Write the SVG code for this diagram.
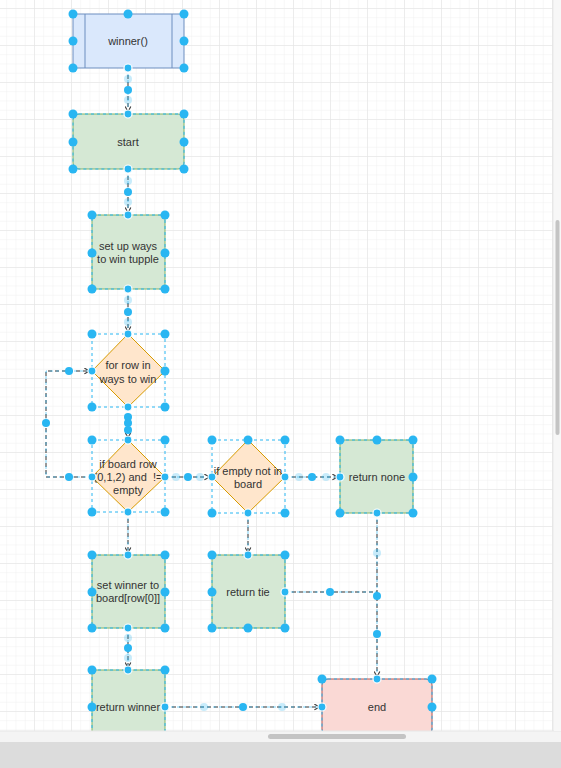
<svg xmlns="http://www.w3.org/2000/svg" width="561" height="768" viewBox="0 0 561 768">
<defs>
<pattern id="minor" x="34" y="8" width="9.25" height="9.25" patternUnits="userSpaceOnUse"><path d="M0 0V9.25M0 0H9.25" fill="none" stroke="#f0f0f0" stroke-width="1"/></pattern>
<pattern id="major" x="34" y="8" width="37" height="37" patternUnits="userSpaceOnUse"><path d="M0 0V37M0 0H37" fill="none" stroke="#e2e2e2" stroke-width="1"/></pattern>
<marker id="arr" viewBox="0 0 10 10" refX="9" refY="5" markerWidth="7" markerHeight="7" orient="auto"><path d="M1 1L9 5L1 9" fill="none" stroke="#333" stroke-width="1.5"/></marker>
</defs>
<style>
text{font-family:"Liberation Sans",Arial,sans-serif;font-size:11px;fill:#333;text-anchor:middle;white-space:pre}
.g{fill:#d5e8d4;stroke:#82b366}
.o{fill:#ffe6cc;stroke:#d79b00}
.sel{fill:none;stroke:#29b6f2;stroke-dasharray:3 3}
.e{fill:none;stroke:#333;stroke-dasharray:4 3}
.eo{fill:none;stroke:#29b6f2;stroke-dasharray:3 3;opacity:.6}
.h{fill:#29b6f2}
.hl{fill:#29b6f2;opacity:.25}
.c{fill:#29b6f2;stroke:#fff;stroke-width:1.2}
</style>
<rect width="561" height="768" fill="#fff"/>
<rect width="553" height="731" fill="url(#minor)"/>
<rect width="553" height="731" fill="url(#major)"/>
<line x1="553" y1="0" x2="553" y2="731" stroke="#e2e2e2"/>

<g id="connectors">
<path class="e" d="M128 68V112" marker-end="url(#arr)"/>
<path class="e" d="M128 169V213" marker-end="url(#arr)"/>
<path class="e" d="M128 289V332" marker-end="url(#arr)"/>
<path class="e" d="M128 407V438" marker-end="url(#arr)"/>
<path class="e" d="M92 477H46V371H90" marker-end="url(#arr)"/>
<path class="e" d="M165 477H210" marker-end="url(#arr)"/>
<path class="e" d="M285 477H338" marker-end="url(#arr)"/>
<path class="e" d="M128 512V553" marker-end="url(#arr)"/>
<path class="e" d="M248 513V553" marker-end="url(#arr)"/>
<path class="e" d="M128 628V668" marker-end="url(#arr)"/>
<path class="e" d="M377 513V677" marker-end="url(#arr)"/>
<path class="e" d="M285 592H377"/>
<path class="e" d="M165 707H320" marker-end="url(#arr)"/>
<path class="eo" d="M128 68V114M128 169V215M128 289V334M128 407V440M92 477H46V371H92M165 477H212M285 477H340M128 512V555M248 513V555M128 628V670M377 513V679M285 592H377M165 707H322"/>
</g>

<g id="n-winner">
<rect x="73" y="14" width="111" height="54" fill="#dae8fc" stroke="#6c8ebf"/>
<path d="M85 14V68M172 14V68" stroke="#6c8ebf"/>
<text x="128" y="45">winner()</text>
</g>
<g id="n-start">
<rect class="g" x="73" y="114" width="111" height="55" rx="6"/>
<rect class="sel" x="73" y="114" width="111" height="55" rx="6"/>
<text x="128" y="146">start</text>
</g>
<g id="n-setup">
<rect class="g" x="92" y="215" width="73" height="74"/>
<rect class="sel" x="92" y="215" width="73" height="74"/>
<text x="128" y="250">set up ways</text>
<text x="128" y="263">to win tupple</text>
</g>
<g id="n-forrow">
<path class="o" d="M128 334L165 371L128 407L92 371Z"/>
<rect class="sel" x="92" y="334" width="73" height="73"/>
<text x="128" y="369">for row in</text>
<text x="128" y="383">ways to win</text>
</g>
<g id="n-ifboard">
<path class="o" d="M128 440L165 477L128 512L92 477Z"/>
<rect class="sel" x="92" y="440" width="73" height="72"/>
<text x="128" y="468">if board row</text>
<text x="128" y="481" xml:space="preserve">(0,1,2) and  !=</text>
<text x="128" y="494">empty</text>
</g>
<g id="n-ifempty">
<path class="o" d="M248 440L285 477L248 513L212 477Z"/>
<rect class="sel" x="212" y="440" width="73" height="73"/>
<text x="248" y="475">if empty not in</text>
<text x="248" y="488">board</text>
</g>
<g id="n-returnnone">
<rect class="g" x="340" y="440" width="73" height="73"/>
<rect class="sel" x="340" y="440" width="73" height="73"/>
<text x="377" y="481">return none</text>
</g>
<g id="n-setwinner">
<rect class="g" x="92" y="555" width="73" height="73"/>
<rect class="sel" x="92" y="555" width="73" height="73"/>
<text x="128" y="589">set winner to</text>
<text x="128" y="602">board[row[0]]</text>
</g>
<g id="n-returntie">
<rect class="g" x="212" y="555" width="73" height="73"/>
<rect class="sel" x="212" y="555" width="73" height="73"/>
<text x="248" y="596">return tie</text>
</g>
<g id="n-returnwinner">
<rect class="g" x="92" y="670" width="73" height="73"/>
<rect class="sel" x="92" y="670" width="73" height="73"/>
<text x="128" y="711">return winner</text>
</g>
<g id="n-end">
<rect x="322" y="679" width="110" height="56" rx="6" fill="#fad9d5" stroke="#b85450"/>
<rect class="sel" x="322" y="679" width="110" height="56" rx="6"/>
<text x="377" y="711">end</text>
</g>

<g id="handles">
<g class="h">
<circle cx="73" cy="14" r="4.5"/><circle cx="128" cy="14" r="4.5"/><circle cx="184" cy="14" r="4.5"/><circle cx="73" cy="41" r="4.5"/><circle cx="184" cy="41" r="4.5"/><circle cx="73" cy="68" r="4.5"/><circle cx="184" cy="68" r="4.5"/>
<circle cx="128" cy="90" r="4"/>
<circle cx="73" cy="114" r="4.5"/><circle cx="184" cy="114" r="4.5"/><circle cx="73" cy="142" r="4.5"/><circle cx="184" cy="142" r="4.5"/><circle cx="73" cy="169" r="4.5"/><circle cx="184" cy="169" r="4.5"/>
<circle cx="128" cy="192" r="4"/>
<circle cx="92" cy="215" r="4.5"/><circle cx="165" cy="215" r="4.5"/><circle cx="92" cy="253" r="4.5"/><circle cx="165" cy="253" r="4.5"/><circle cx="92" cy="289" r="4.5"/><circle cx="165" cy="289" r="4.5"/>
<circle cx="128" cy="312" r="4"/>
<circle cx="92" cy="334" r="4.5"/><circle cx="165" cy="334" r="4.5"/><circle cx="165" cy="371" r="4.5"/><circle cx="92" cy="407" r="4.5"/><circle cx="165" cy="407" r="4.5"/>
<circle cx="128" cy="417" r="4"/><circle cx="128" cy="423" r="4"/><circle cx="128" cy="430" r="4"/>
<circle cx="69" cy="371" r="4"/><circle cx="46" cy="423" r="4"/><circle cx="69" cy="477" r="4"/>
<circle cx="92" cy="440" r="4.5"/><circle cx="165" cy="440" r="4.5"/><circle cx="92" cy="512" r="4.5"/><circle cx="165" cy="512" r="4.5"/>
<circle cx="188" cy="477" r="4"/>
<circle cx="212" cy="440" r="4.5"/><circle cx="248" cy="440" r="4.5"/><circle cx="285" cy="440" r="4.5"/><circle cx="212" cy="513" r="4.5"/><circle cx="285" cy="513" r="4.5"/>
<circle cx="312" cy="477" r="4"/>
<circle cx="340" cy="440" r="4.5"/><circle cx="377" cy="440" r="4.5"/><circle cx="413" cy="440" r="4.5"/><circle cx="413" cy="477" r="4.5"/><circle cx="340" cy="513" r="4.5"/><circle cx="413" cy="513" r="4.5"/>
<circle cx="92" cy="555" r="4.5"/><circle cx="165" cy="555" r="4.5"/><circle cx="92" cy="592" r="4.5"/><circle cx="165" cy="592" r="4.5"/><circle cx="92" cy="628" r="4.5"/><circle cx="165" cy="628" r="4.5"/>
<circle cx="212" cy="555" r="4.5"/><circle cx="285" cy="555" r="4.5"/><circle cx="212" cy="592" r="4.5"/><circle cx="212" cy="628" r="4.5"/><circle cx="248" cy="628" r="4.5"/><circle cx="285" cy="628" r="4.5"/>
<circle cx="330" cy="592" r="4"/><circle cx="377" cy="596" r="4"/><circle cx="377" cy="634" r="4"/>
<circle cx="128" cy="648" r="4"/>
<circle cx="92" cy="670" r="4.5"/><circle cx="165" cy="670" r="4.5"/><circle cx="92" cy="707" r="4.5"/>
<circle cx="243" cy="707" r="4"/>
<circle cx="322" cy="679" r="4.5"/><circle cx="432" cy="679" r="4.5"/><circle cx="432" cy="707" r="4.5"/>
</g>
<g class="hl">
<circle cx="128" cy="79" r="4"/><circle cx="128" cy="100" r="4"/><circle cx="128" cy="181" r="4"/><circle cx="128" cy="202" r="4"/><circle cx="128" cy="300" r="4"/><circle cx="128" cy="322" r="4"/>
<circle cx="176" cy="477" r="4"/><circle cx="200" cy="477" r="4"/><circle cx="299" cy="477" r="4"/><circle cx="326" cy="477" r="4"/>
<circle cx="377" cy="553" r="4"/><circle cx="128" cy="638" r="4"/><circle cx="128" cy="658" r="4"/>
<circle cx="204" cy="707" r="4"/><circle cx="282" cy="707" r="4"/>
</g>
<g class="c">
<circle cx="128" cy="68" r="4"/><circle cx="128" cy="114" r="4"/><circle cx="128" cy="169" r="4"/><circle cx="128" cy="215" r="4"/><circle cx="128" cy="289" r="4"/><circle cx="128" cy="334" r="4"/><circle cx="92" cy="371" r="4"/><circle cx="128" cy="407" r="4"/>
<circle cx="128" cy="440" r="4"/><circle cx="92" cy="477" r="4"/><circle cx="165" cy="477" r="4"/><circle cx="128" cy="512" r="4"/>
<circle cx="212" cy="477" r="4"/><circle cx="285" cy="477" r="4"/><circle cx="248" cy="513" r="4"/>
<circle cx="340" cy="477" r="4"/><circle cx="377" cy="513" r="4"/>
<circle cx="128" cy="555" r="4"/><circle cx="128" cy="628" r="4"/><circle cx="248" cy="555" r="4"/><circle cx="285" cy="592" r="4"/>
<circle cx="128" cy="670" r="4"/><circle cx="165" cy="707" r="4"/><circle cx="377" cy="679" r="4"/><circle cx="322" cy="707" r="4"/>
</g>
<g fill="none" stroke="#29b6f2" stroke-width="1">
<circle cx="128" cy="68" r="1.5"/><circle cx="128" cy="114" r="1.5"/><circle cx="128" cy="169" r="1.5"/><circle cx="128" cy="215" r="1.5"/><circle cx="128" cy="289" r="1.5"/><circle cx="128" cy="334" r="1.5"/><circle cx="128" cy="407" r="1.5"/><circle cx="92" cy="371" r="1.5"/>
<circle cx="128" cy="440" r="1.5"/><circle cx="92" cy="477" r="1.5"/><circle cx="165" cy="477" r="1.5"/><circle cx="128" cy="512" r="1.5"/>
<circle cx="212" cy="477" r="1.5"/><circle cx="285" cy="477" r="1.5"/><circle cx="248" cy="513" r="1.5"/><circle cx="340" cy="477" r="1.5"/><circle cx="377" cy="513" r="1.5"/>
<circle cx="128" cy="555" r="1.5"/><circle cx="128" cy="628" r="1.5"/><circle cx="248" cy="555" r="1.5"/><circle cx="285" cy="592" r="1.5"/>
<circle cx="128" cy="670" r="1.5"/><circle cx="165" cy="707" r="1.5"/><circle cx="377" cy="679" r="1.5"/><circle cx="322" cy="707" r="1.5"/>
</g>
</g>

<g id="chrome">
<rect x="0" y="731" width="561" height="37" fill="#f4f4f4"/>
<line x1="0" y1="731" x2="561" y2="731" stroke="#e6e6e6"/>
<rect x="268" y="734" width="138" height="5" rx="2.5" fill="#c4c4c4"/>
<rect x="0" y="742" width="561" height="26" fill="#dcdcdc"/>
<rect x="554" y="0" width="7" height="731" fill="#f7f7f7"/>
<rect x="555.5" y="220" width="4" height="215" rx="2" fill="#c4c4c4"/>
</g>
</svg>
